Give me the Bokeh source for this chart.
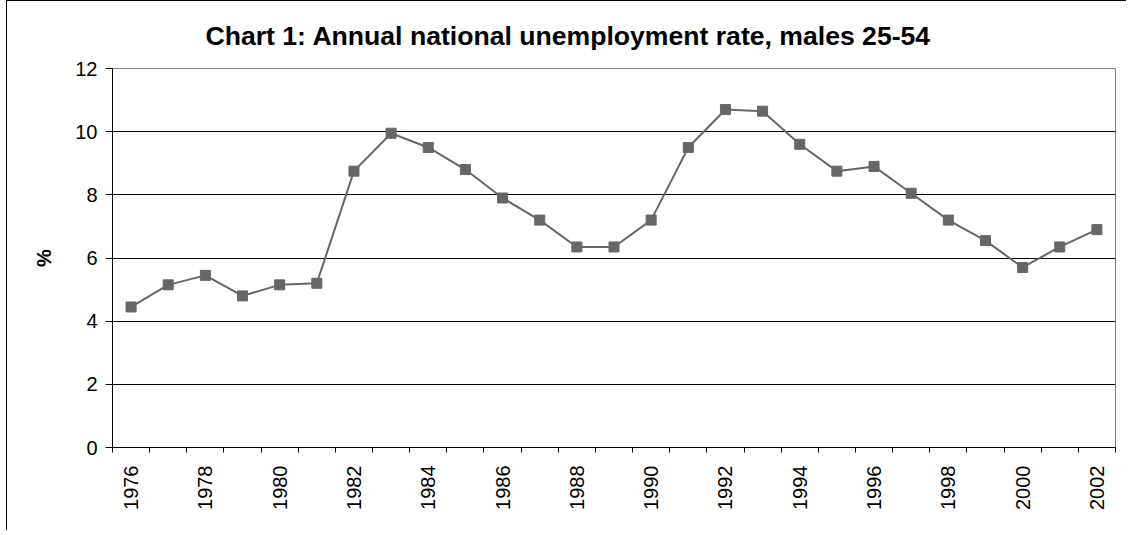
from math import pi
from bokeh.plotting import figure
from bokeh.models import FixedTicker, Range1d
from bokeh.embed import file_html
from bokeh.resources import INLINE

# ---- data ----
years = [1976, 1977, 1978, 1979, 1980, 1981, 1982, 1983, 1984, 1985, 1986, 1987, 1988, 1989,
         1990, 1991, 1992, 1993, 1994, 1995, 1996, 1997, 1998, 1999, 2000, 2001, 2002]
rate = [4.45, 5.15, 5.45, 4.8, 5.15, 5.2, 8.75, 9.95, 9.5, 8.8, 7.9, 7.2, 6.35, 6.35,
        7.2, 9.5, 10.7, 10.65, 9.6, 8.75, 8.9, 8.05, 7.2, 6.55, 5.7, 6.35, 6.9]
label_years = [1976, 1978, 1980, 1982, 1984, 1986, 1988, 1990, 1992, 1994, 1996, 1998, 2000, 2002]
label_texts = ["1976", "1978", "1980", "1982", "1984", "1986", "1988", "1990", "1992", "1994",
               "1996", "1998", "2000", "2002"]
y_ticks = [0, 2, 4, 6, 8, 10, 12]
grid_ticks = [2, 4, 6, 8, 10]
title_text = "Chart 1: Annual national unemployment rate, males 25-54"
y_label = "%"

FONT = "Liberation Sans"
GREY = "#666666"

p = figure(width=1120, height=530, output_backend="svg", toolbar_location=None,
           x_range=Range1d(years[0] - 0.5, years[-1] + 0.5), y_range=Range1d(0, 12),
           min_border_left=105, min_border_right=12, min_border_top=67, min_border_bottom=84,
           background_fill_color="white", border_fill_color="white")
p.styles = {"margin-left": "6px",
            "border-left": "1px solid #000000", "border-top": "1px solid #000000"}

# title
p.title.text = title_text
p.title.text_font = FONT
p.title.text_font_size = "26.6px"
p.title.text_font_style = "bold"
p.title.text_color = "black"
p.title.align = "left"
p.title.offset = 93
p.title.standoff = 35

# frame
p.outline_line_color = "#808080"
p.outline_line_width = 1
p.xgrid.visible = False
p.ygrid.ticker = FixedTicker(ticks=grid_ticks)
p.ygrid.grid_line_color = "black"
p.ygrid.grid_line_width = 1

# y axis
ya = p.yaxis[0]
ya.ticker = FixedTicker(ticks=y_ticks)
ya.axis_line_color = "black"
ya.major_tick_line_color = "black"
ya.major_tick_out = 7
ya.major_tick_in = 0
ya.minor_tick_line_color = None
ya.major_label_text_font = FONT
ya.major_label_text_font_size = "20px"
ya.major_label_text_color = "black"
ya.major_label_standoff = 8
ya.axis_label = y_label
ya.axis_label_text_font = FONT
ya.axis_label_text_font_size = "20px"
ya.axis_label_text_font_style = "bold"
ya.axis_label_text_color = "black"
ya.axis_label_standoff = 17

# x axis
boundaries = [y - 0.5 for y in years] + [years[-1] + 0.5]
xa = p.xaxis[0]
xa.ticker = FixedTicker(ticks=label_years, minor_ticks=boundaries)
xa.major_label_overrides = {yv: t for yv, t in zip(label_years, label_texts)}
xa.axis_line_color = "black"
xa.major_tick_out = 0
xa.major_tick_in = 0
xa.minor_tick_out = 5
xa.minor_tick_in = 0
xa.minor_tick_line_color = "black"
xa.major_label_orientation = pi / 2
xa.major_label_text_font = FONT
xa.major_label_text_font_size = "20px"
xa.major_label_text_color = "black"
xa.major_label_standoff = 13

# series
p.line(years, rate, line_color=GREY, line_width=2)
p.scatter(years, rate, marker="square", size=10, fill_color=GREY, line_color=GREY, line_width=1)

open("out.html", "w").write(file_html(p, INLINE))
